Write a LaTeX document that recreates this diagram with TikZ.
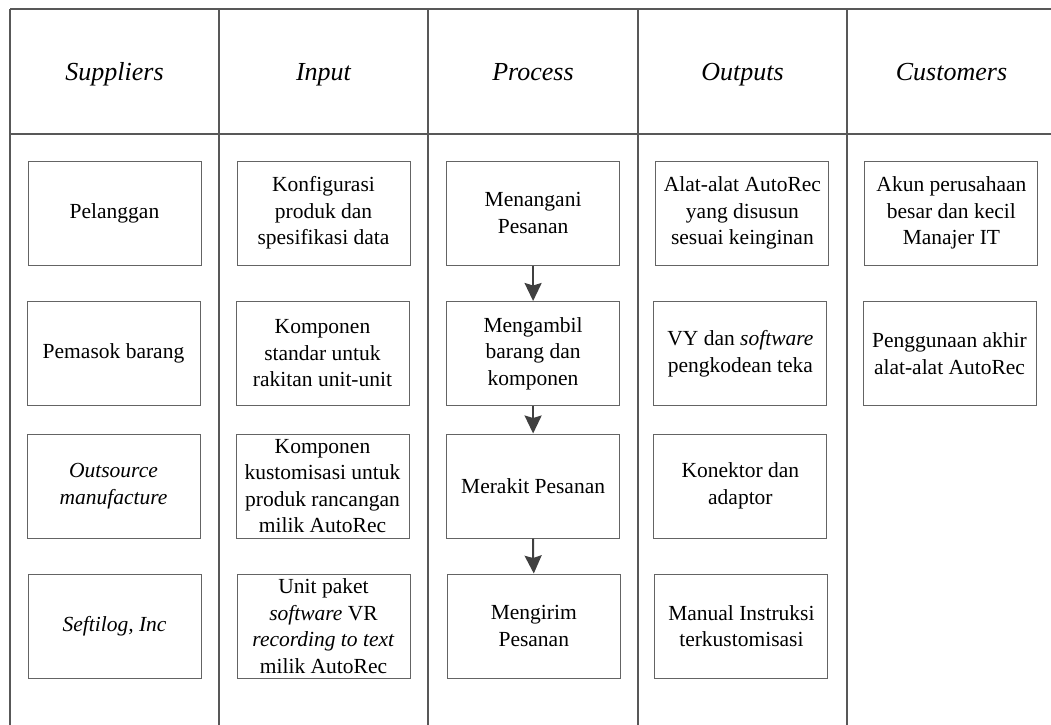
\documentclass[tikz,border=0pt]{standalone}
\usepackage{fontspec}
\setmainfont{Liberation Serif}
\usetikzlibrary{arrows.meta}

\definecolor{gridline}{RGB}{88,88,88}
\definecolor{boxline}{RGB}{100,100,100}
\definecolor{flowline}{RGB}{64,64,64}

\tikzset{
  gridrule/.style={draw=gridline, line width=1.2pt},
  headtext/.style={font=\fontsize{26pt}{30pt}\selectfont\itshape, anchor=base},
  itembox/.style={draw=boxline, line width=1pt, rectangle,
    minimum width=173pt, minimum height=104pt,
    inner xsep=3pt, inner ysep=0pt, align=center,
    font=\fontsize{21.5pt}{26.5pt}\selectfont},
  flowarrow/.style={draw=flowline, line width=2pt,
    -{Stealth[length=18pt, width=17pt, inset=2.5pt, fill=flowline]}}
}

\begin{document}
\begin{tikzpicture}[x=1pt, y=-1pt]
  \useasboundingbox (0,0) rectangle (1051,724);

  % table frame: top rule, header rule and column separators
  \draw[gridrule] (10,9) -- (1060,9);
  \draw[gridrule] (10,134) -- (1060,134);
  \foreach \cx in {10,219,428,638,847}
    \draw[gridrule] (\cx,9) -- (\cx,730);

  % column headings
  \node[headtext] (hs) at (114.5,80) {Suppliers};
  \node[headtext] (hi) at (323.5,80) {Input};
  \node[headtext] (hp) at (533,80) {Process};
  \node[headtext] (ho) at (742.5,80) {Outputs};
  \node[headtext] (hc) at (951.5,80) {Customers};

  % suppliers
  \node[itembox] (s1) at (114.5,213) {Pelanggan};
  \node[itembox] (s2) at (113.5,353.5) {Pemasok barang};
  \node[itembox] (s3) at (113.5,486) {\textit{Outsource}\\\textit{manufacture}};
  \node[itembox] (s4) at (114.5,626) {\textit{Seftilog, Inc}};

  % inputs
  \node[itembox] (i1) at (323.5,213) {Konfigurasi\\produk dan\\spesifikasi data};
  \node[itembox] (i2) at (322.5,353.5) {Komponen\\standar untuk\\rakitan unit-unit};
  \node[itembox] (i3) at (322.5,486) {Komponen\\kustomisasi untuk\\produk rancangan\\milik AutoRec};
  \node[itembox] (i4) at (323.5,626) {Unit paket\\\textit{software} VR\\\textit{recording to text}\\milik AutoRec};

  % process steps
  \node[itembox] (p1) at (533.1,213) {Menangani\\Pesanan};
  \node[itembox] (p2) at (533.1,353.5) {Mengambil\\barang dan\\komponen};
  \node[itembox] (p3) at (533.1,486) {Merakit Pesanan};
  \node[itembox] (p4) at (533.8,626) {Mengirim\\Pesanan};

  % outputs
  \node[itembox] (o1) at (742.4,213) {Alat-alat AutoRec\\yang disusun\\sesuai keinginan};
  \node[itembox] (o2) at (740.4,353.5) {VY dan \textit{software}\\pengkodean teka};
  \node[itembox] (o3) at (740.4,486) {Konektor dan\\adaptor};
  \node[itembox] (o4) at (741.4,626) {Manual Instruksi\\terkustomisasi};

  % customers
  \node[itembox] (c1) at (951.4,213) {Akun perusahaan\\besar dan kecil\\Manajer IT};
  \node[itembox] (c2) at (949.5,353.5) {Penggunaan akhir\\alat-alat AutoRec};

  % process flow
  \draw[flowarrow] (p1.south) -- (p2.north);
  \draw[flowarrow] (p2.south) -- (p3.north);
  \draw[flowarrow] (p3.south) -- ++(0,16) -- (p4.north);
\end{tikzpicture}
\end{document}
